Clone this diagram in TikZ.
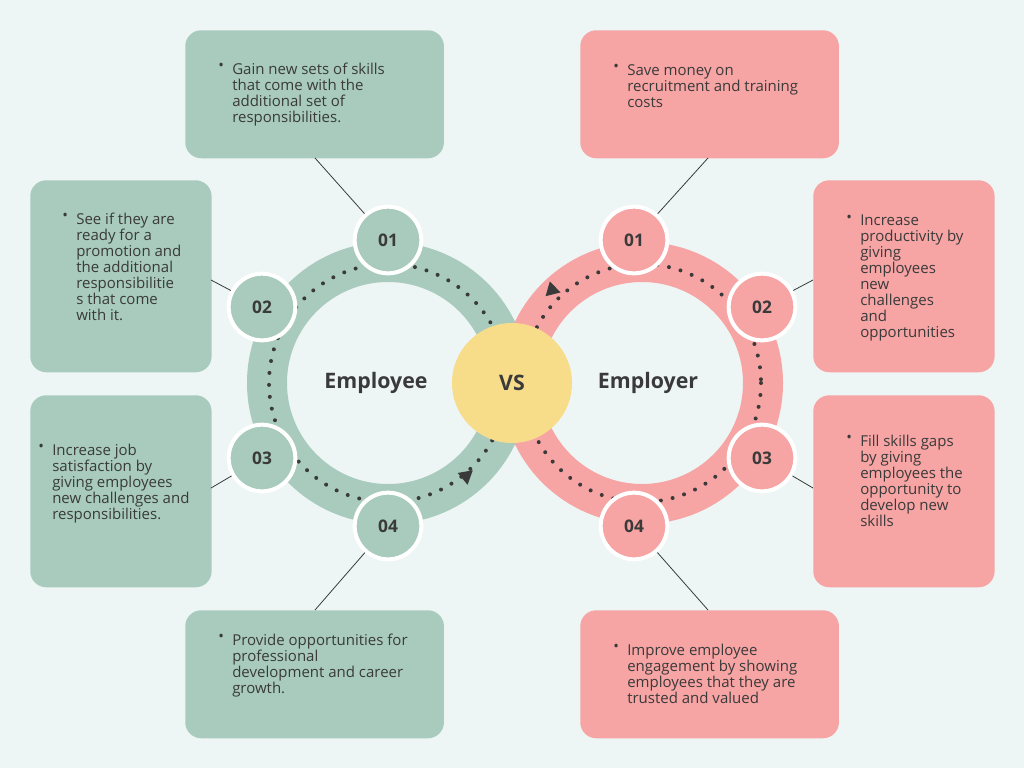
\documentclass[tikz,border=0pt]{standalone}
\usepackage{fontspec}
\setmainfont{Open Sans}
\usetikzlibrary{shapes.geometric}
\definecolor{bgcol}{HTML}{EEF5F5}
\definecolor{greencol}{HTML}{A8CBBE}
\definecolor{pinkcol}{HTML}{F7A4A4}
\definecolor{vscol}{HTML}{F7DC8A}
\definecolor{inkcol}{HTML}{3A3A3A}
\tikzset{
  gbox/.style={fill=greencol, rounded corners=12, anchor=north west, inner sep=0},
  pbox/.style={fill=pinkcol, rounded corners=12, anchor=north west, inner sep=0},
  txt/.style={anchor=north west, align=left, inner sep=0, text=inkcol, font=\fontsize{11.25}{12}\selectfont},
  num/.style={circle, draw=white, line width=3, minimum size=50, text=inkcol, font=\fontsize{13}{13}\selectfont\bfseries},
  link/.style={draw=inkcol, line width=0.6},
  dots/.style={draw=inkcol, line width=3, line cap=round, dash pattern=on 0pt off 9pt},
  tip/.style={isosceles triangle, fill=inkcol, inner sep=0, minimum width=10, minimum height=10, isosceles triangle apex angle=60}
}
\begin{document}
\begin{tikzpicture}[x=0.75pt,y=0.75pt,yscale=-1,xscale=1]
\fill[bgcol] (0,0) rectangle (1024,768);
\useasboundingbox (0,0) rectangle (1024,768);

% rings
\draw[greencol, line width=30] (388,383) circle (121);
\draw[pinkcol, line width=30] (642,383) circle (121);
\draw[dots] (388,383) circle (119);
\draw[dots] (642,383) circle (119);
\node[tip, rotate=40] (tl) at (466,476) {};
\node[tip, rotate=224] (tr) at (552,290) {};

% centre labels
\node[circle, fill=vscol, minimum size=90, text=inkcol, font=\fontsize{16}{16}\selectfont\bfseries] (vs) at (512,383) {VS};
\node[text=inkcol, font=\fontsize{16}{16}\selectfont\bfseries] (emp) at (376,383) {Employee};
\node[text=inkcol, font=\fontsize{16}{16}\selectfont\bfseries] (empr) at (648,383) {Employer};

% boxes
\node[gbox, minimum width=194, minimum height=96] (gb1) at (185,30) {};
\node[gbox, minimum width=136, minimum height=144] (gb2) at (30,180) {};
\node[gbox, minimum width=136, minimum height=144] (gb3) at (30,395) {};
\node[gbox, minimum width=194, minimum height=96] (gb4) at (185,610) {};
\node[pbox, minimum width=194, minimum height=96] (pb1) at (580,30) {};
\node[pbox, minimum width=136, minimum height=144] (pb2) at (813,180) {};
\node[pbox, minimum width=136, minimum height=144] (pb3) at (813,395) {};
\node[pbox, minimum width=194, minimum height=96] (pb4) at (580,610) {};

% texts
\node[txt] (gt1) at (232,63) {Gain new sets of skills\\that come with the\\additional set of\\responsibilities.};
\node[txt, anchor=north east] at (gt1.north west) {\textbullet\ \ };
\node[txt] (gt2) at (76,213) {See if they are\\ready for a\\promotion and\\the additional\\responsibilitie\\s that come\\with it.};
\node[txt, anchor=north east] at (gt2.north west) {\textbullet\ \ };
\node[txt] (gt3) at (52,444) {Increase job\\satisfaction by\\giving employees\\new challenges and\\responsibilities.};
\node[txt, anchor=north east] at (gt3.north west) {\textbullet\ \ };
\node[txt] (gt4) at (232,634) {Provide opportunities for\\professional\\development and career\\growth.};
\node[txt, anchor=north east] at (gt4.north west) {\textbullet\ \ };
\node[txt] (pt1) at (627,64) {Save money on\\recruitment and training\\costs};
\node[txt, anchor=north east] at (pt1.north west) {\textbullet\ \ };
\node[txt] (pt2) at (860,215) {Increase\\productivity by\\giving\\employees\\new\\challenges\\and\\opportunities};
\node[txt, anchor=north east] at (pt2.north west) {\textbullet\ \ };
\node[txt] (pt3) at (860,435) {Fill skills gaps\\by giving\\employees the\\opportunity to\\develop new\\skills};
\node[txt, anchor=north east] at (pt3.north west) {\textbullet\ \ };
\node[txt] (pt4) at (627,644) {Improve employee\\engagement by showing\\employees that they are\\trusted and valued};
\node[txt, anchor=north east] at (pt4.north west) {\textbullet\ \ };

% number circles
\node[num, fill=greencol] (g1) at (388,240) {01};
\node[num, fill=greencol] (g2) at (262,307) {02};
\node[num, fill=greencol] (g3) at (262,458) {03};
\node[num, fill=greencol] (g4) at (388,526) {04};
\node[num, fill=pinkcol] (p1) at (634,240) {01};
\node[num, fill=pinkcol] (p2) at (762,307) {02};
\node[num, fill=pinkcol] (p3) at (762,458) {03};
\node[num, fill=pinkcol] (p4) at (634,526) {04};

% connectors
\coordinate (cg1) at (315,158);
\coordinate (cg2) at (211,280);
\coordinate (cg3) at (211,488);
\coordinate (cg4) at (315,610);
\coordinate (cp1) at (708,158);
\coordinate (cp2) at (813,280);
\coordinate (cp3) at (813,488);
\coordinate (cp4) at (708,610);
\draw[link] (g1) -- (cg1);
\draw[link] (g2) -- (cg2);
\draw[link] (g3) -- (cg3);
\draw[link] (g4) -- (cg4);
\draw[link] (p1) -- (cp1);
\draw[link] (p2) -- (cp2);
\draw[link] (p3) -- (cp3);
\draw[link] (p4) -- (cp4);
\end{tikzpicture}
\end{document}
